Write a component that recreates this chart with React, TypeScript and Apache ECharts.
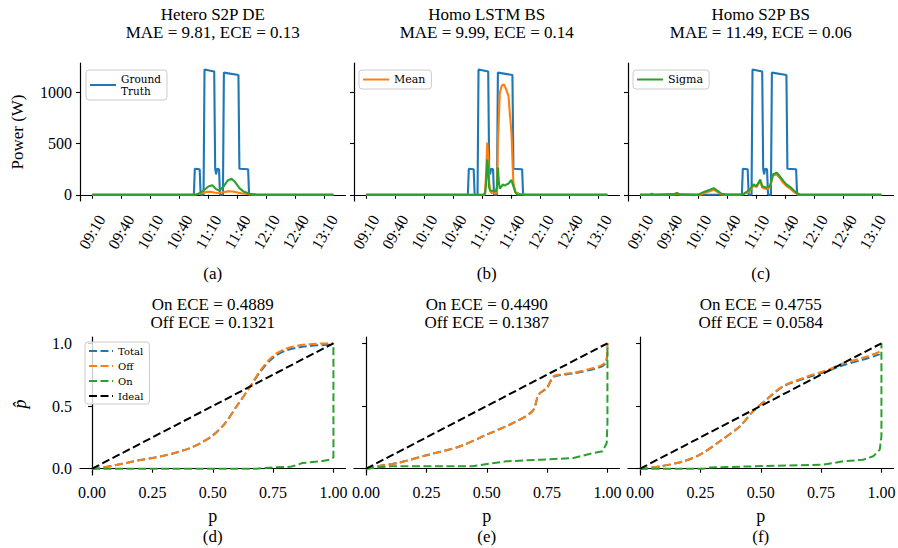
import React, { useEffect, useRef } from 'react';
import * as echarts from 'echarts';

// ---------- tick labels ----------
const timeTicks = ['09:10', '09:40', '10:10', '10:40', '11:10', '11:40', '12:10', '12:40', '13:10'];
const powerTicks = [0, 500, 1000];
const probTicks = [0, 0.25, 0.5, 0.75, 1];
const phatTicks = [0, 0.5, 1];

// ---------- titles ----------
const topTitles = [
  ['Hetero S2P DE', 'MAE = 9.81, ECE = 0.13'],
  ['Homo LSTM BS', 'MAE = 9.99, ECE = 0.14'],
  ['Homo S2P BS', 'MAE = 11.49, ECE = 0.06'],
];
const bottomTitles = [
  ['On ECE = 0.4889', 'Off ECE = 0.1321'],
  ['On ECE = 0.4490', 'Off ECE = 0.1387'],
  ['On ECE = 0.4755', 'Off ECE = 0.0584'],
];
const topTags = ['(a)', '(b)', '(c)'];
const bottomTags = ['(d)', '(e)', '(f)'];

// ---------- ground truth (same in all three panels) ----------
const gtTimes = ['09:10', '10:55', '10:56', '11:01', '11:02', '11:05', '11:06', '11:16', '11:17', '11:18', '11:19', '11:21', '11:22', '11:25', '11:26', '11:41', '11:42', '11:51', '11:52', '13:19'];
const gtValues = [0, 0, 255, 250, 0, 0, 1225, 1205, 255, 200, 255, 250, 0, 0, 1195, 1172, 255, 250, 0, 0];

// ---------- panel (a) ----------
const aMeanTimes = ['09:10', '10:55', '10:58', '11:03', '11:08', '11:12', '11:16', '11:20', '11:24', '11:30', '11:35', '11:40', '11:45', '11:52', '12:00', '13:19'];
const aMeanValues = [0, 0, 5, 15, 28, 30, 22, 15, 22, 33, 32, 22, 12, 5, 0, 0];
const aSigmaTimes = ['09:10', '10:57', '11:01', '11:06', '11:10', '11:14', '11:18', '11:21', '11:25', '11:30', '11:34', '11:37', '11:42', '11:46', '11:53', '12:00', '13:19'];
const aSigmaValues = [0, 0, 15, 49, 81, 94, 55, 42, 72, 140, 156, 130, 65, 33, 10, 0, 0];

// ---------- panel (b) ----------
const bMeanTimes = ['09:10', '11:12', '11:13', '11:14', '11:15', '11:16', '11:17', '11:18', '11:20', '11:24', '11:25', '11:26', '11:28', '11:30', '11:32', '11:34', '11:37', '11:38', '11:40', '11:41', '11:42', '11:44', '11:48', '11:55', '13:19'];
const bMeanValues = [0, 0, 60, 250, 510, 380, 120, 35, 15, 15, 20, 507, 997, 1068, 1080, 1045, 964, 834, 606, 345, 117, 26, 10, 0, 0];
const bSigmaTimes = ['09:10', '11:12', '11:13', '11:14', '11:15', '11:16', '11:17', '11:18', '11:20', '11:22', '11:24', '11:25', '11:26', '11:27', '11:28', '11:30', '11:31', '11:33', '11:35', '11:37', '11:39', '11:40', '11:42', '11:44', '11:46', '13:19'];
const bSigmaValues = [0, 0, 20, 150, 345, 230, 70, 45, 35, 45, 30, 80, 265, 120, 60, 84, 100, 90, 101, 110, 135, 143, 84, 26, 0, 0];

// ---------- panel (c) ----------
const cMeanTimes = ['09:10', '09:45', '09:48', '09:51', '10:12', '10:17', '10:22', '10:26', '10:30', '10:34', '10:38', '10:56', '11:03', '11:07', '11:10', '11:14', '11:16', '11:20', '11:24', '11:27', '11:31', '11:34', '11:38', '11:41', '11:45', '11:49', '11:52', '11:55', '13:19'];
const cMeanValues = [0, 2, 12, 2, 0, 20, 35, 50, 25, 5, 0, 3, 35, 90, 75, 135, 70, 55, 70, 185, 200, 165, 115, 85, 60, 25, 5, 0, 0];
const cSigmaTimes = ['09:10', '09:20', '09:22', '09:24', '09:45', '09:48', '09:51', '10:10', '10:17', '10:22', '10:26', '10:30', '10:34', '10:39', '10:56', '11:03', '11:07', '11:10', '11:14', '11:16', '11:20', '11:24', '11:27', '11:31', '11:34', '11:38', '11:41', '11:45', '11:49', '11:52', '11:55', '13:19'];
const cSigmaValues = [0, 0, 12, 0, 6, 18, 4, 0, 33, 49, 65, 39, 10, 3, 5, 49, 101, 84, 150, 84, 68, 84, 199, 216, 183, 133, 101, 75, 39, 16, 0, 0];

// ---------- calibration (d) ----------
const dOffP = [0, 0.05, 0.1, 0.15, 0.2, 0.25, 0.3, 0.35, 0.4, 0.45, 0.5, 0.55, 0.6, 0.65, 0.7, 0.75, 0.8, 0.85, 0.9, 0.95, 1];
const dOffY = [0, 0.012, 0.03, 0.05, 0.07, 0.085, 0.105, 0.13, 0.16, 0.205, 0.265, 0.36, 0.5, 0.64, 0.79, 0.9, 0.955, 0.98, 0.993, 0.998, 1.0];
const dTotalP = [0, 0.05, 0.1, 0.15, 0.2, 0.25, 0.3, 0.35, 0.4, 0.45, 0.5, 0.55, 0.6, 0.65, 0.7, 0.75, 0.8, 0.85, 0.9, 0.95, 1];
const dTotalY = [0, 0.012, 0.03, 0.05, 0.07, 0.085, 0.105, 0.13, 0.16, 0.205, 0.265, 0.36, 0.5, 0.64, 0.78, 0.885, 0.94, 0.965, 0.978, 0.985, 0.99];
const dOnP = [0, 0.68, 0.75, 0.82, 0.85, 0.87, 0.95, 0.99, 1, 1];
const dOnY = [0, 0, 0.01, 0.015, 0.03, 0.045, 0.06, 0.075, 0.09, 1];

// ---------- calibration (e) ----------
const eOffP = [0, 0.06, 0.13, 0.25, 0.39, 0.5, 0.61, 0.69, 0.715, 0.75, 0.775, 0.8, 0.86, 0.97, 0.995, 1];
const eOffY = [0, 0.024, 0.045, 0.107, 0.179, 0.272, 0.365, 0.46, 0.59, 0.65, 0.735, 0.75, 0.765, 0.82, 0.86, 1.0];
const eTotalP = [0, 0.06, 0.13, 0.25, 0.39, 0.5, 0.61, 0.69, 0.715, 0.75, 0.775, 0.8, 0.86, 0.97, 0.995, 1];
const eTotalY = [0, 0.024, 0.045, 0.107, 0.179, 0.272, 0.365, 0.46, 0.59, 0.645, 0.73, 0.745, 0.76, 0.81, 0.85, 0.97];
const eOnP = [0, 0.1, 0.44, 0.51, 0.58, 0.72, 0.86, 0.94, 0.98, 0.997, 1, 1];
const eOnY = [0, 0.019, 0.019, 0.04, 0.059, 0.072, 0.085, 0.125, 0.139, 0.205, 0.365, 1];

// ---------- calibration (f) ----------
const fOffP = [0, 0.083, 0.179, 0.248, 0.331, 0.414, 0.469, 0.524, 0.593, 0.69, 0.772, 0.841, 0.924, 0.995, 1];
const fOffY = [0, 0.019, 0.059, 0.112, 0.219, 0.339, 0.459, 0.552, 0.659, 0.733, 0.784, 0.84, 0.885, 0.935, 0.96];
const fTotalP = [0, 0.083, 0.179, 0.248, 0.331, 0.414, 0.469, 0.524, 0.593, 0.69, 0.772, 0.841, 0.924, 0.995, 1];
const fTotalY = [0, 0.019, 0.059, 0.112, 0.219, 0.339, 0.459, 0.552, 0.655, 0.725, 0.775, 0.825, 0.87, 0.915, 0.94];
const fOnP = [0, 0.262, 0.29, 0.566, 0.759, 0.841, 0.924, 0.966, 0.993, 1, 1];
const fOnY = [0, 0, 0.01, 0.024, 0.032, 0.059, 0.072, 0.099, 0.152, 0.259, 1];

const idealP = [0, 1];
const idealY = [0, 1];

const BLUE = '#1f77b4';
const ORANGE = '#ff7f0e';
const GREEN = '#2ca02c';
const SERIF = "'Liberation Serif', 'DejaVu Serif', serif";
const LEGEND_FONT = "'DejaVu Serif', 'Liberation Serif', serif";

const toMin = (s: string) => {
  const [h, m] = s.split(':').map(Number);
  return h * 60 + m;
};
const fmtMin = (v: number) => {
  const h = Math.floor(v / 60);
  const m = Math.round(v - h * 60);
  return `${String(h).padStart(2, '0')}:${String(m).padStart(2, '0')}`;
};
const zipTime = (t: string[], v: number[]) => t.map((s, i) => [toMin(s), v[i]]);
const zip = (a: number[], b: number[]) => a.map((x, i) => [x, b[i]]);

const LEFTS = [80, 354, 628];
const WIDTH = 265.5;
const TOP1 = 63;
const TOP2 = 337;
const HEIGHT = 138;

export default function App() {
  const ref = useRef<HTMLDivElement>(null);
  useEffect(() => {
    if (!ref.current) return;
    const chart = echarts.init(ref.current, undefined, { renderer: 'svg' });

    const grids: any[] = [];
    const xAxes: any[] = [];
    const yAxes: any[] = [];
    const series: any[] = [];

    const axisLine = { show: true, lineStyle: { color: '#000', width: 1.2 } };
    const tickStyle = { color: '#000', width: 1.1 };
    const tickFont = { fontFamily: SERIF, fontSize: 16, color: '#000' };

    const topData = [
      [zipTime(aMeanTimes, aMeanValues), zipTime(aSigmaTimes, aSigmaValues)],
      [zipTime(bMeanTimes, bMeanValues), zipTime(bSigmaTimes, bSigmaValues)],
      [zipTime(cMeanTimes, cMeanValues), zipTime(cSigmaTimes, cSigmaValues)],
    ];
    const botData = [
      [zip(dTotalP, dTotalY), zip(dOffP, dOffY), zip(dOnP, dOnY)],
      [zip(eTotalP, eTotalY), zip(eOffP, eOffY), zip(eOnP, eOnY)],
      [zip(fTotalP, fTotalY), zip(fOffP, fOffY), zip(fOnP, fOnY)],
    ];

    for (let i = 0; i < 3; i++) {
      grids.push({ left: LEFTS[i], top: TOP1, width: WIDTH, height: HEIGHT, outerBoundsMode: 'none' });
      xAxes.push({
        type: 'value', gridIndex: i, min: 537.5, max: 811.5,
        axisLine, splitLine: { show: false },
        axisTick: { show: true, length: 4, lineStyle: tickStyle, customValues: timeTicks.map(toMin) },
        axisLabel: {
          ...tickFont, customValues: timeTicks.map(toMin), formatter: (v: number) => fmtMin(v),
          rotate: 60, align: 'center', verticalAlign: 'middle', margin: 31,
        },
      });
      yAxes.push({
        type: 'value', gridIndex: i, min: -61, max: 1289,
        axisLine, splitLine: { show: false },
        axisTick: { show: true, length: 4, lineStyle: tickStyle, customValues: powerTicks },
        axisLabel: { ...tickFont, show: i === 0, customValues: powerTicks, margin: 8, formatter: (v: number) => String(v) },
      });
      const gtData = zipTime(gtTimes, gtValues);
      const common = { type: 'line', xAxisIndex: i, yAxisIndex: i, symbol: 'none', showSymbol: false, animation: false, silent: true };
      series.push({ ...common, name: 'Ground Truth', data: gtData, lineStyle: { color: BLUE, width: 2.1 }, itemStyle: { color: BLUE } });
      series.push({ ...common, name: 'Mean', data: topData[i][0], lineStyle: { color: ORANGE, width: 2.1 }, itemStyle: { color: ORANGE } });
      series.push({ ...common, name: 'Sigma', data: topData[i][1], lineStyle: { color: GREEN, width: 2.1 }, itemStyle: { color: GREEN } });
    }

    for (let i = 0; i < 3; i++) {
      const gi = i + 3;
      grids.push({ left: LEFTS[i], top: TOP2, width: WIDTH, height: HEIGHT, outerBoundsMode: 'none' });
      xAxes.push({
        type: 'value', gridIndex: gi, min: -0.05, max: 1.05,
        axisLine, splitLine: { show: false },
        axisTick: { show: true, length: 4, lineStyle: tickStyle, customValues: probTicks },
        axisLabel: { ...tickFont, customValues: probTicks, formatter: (v: number) => v.toFixed(2), margin: 9 },
      });
      yAxes.push({
        type: 'value', gridIndex: gi, min: -0.05, max: 1.05,
        axisLine, splitLine: { show: false },
        axisTick: { show: true, length: 4, lineStyle: tickStyle, customValues: phatTicks },
        axisLabel: { ...tickFont, show: i === 0, customValues: phatTicks, formatter: (v: number) => v.toFixed(1), margin: 8 },
      });
      const common = { type: 'line', xAxisIndex: gi, yAxisIndex: gi, symbol: 'none', showSymbol: false, animation: false, silent: true };
      const dash = [8, 3.5];
      series.push({ ...common, name: 'Total', data: botData[i][0], smooth: 0.3, lineStyle: { color: BLUE, width: 2, type: dash }, itemStyle: { color: BLUE } });
      series.push({ ...common, name: 'Off', data: botData[i][1], smooth: 0.3, lineStyle: { color: ORANGE, width: 2, type: dash }, itemStyle: { color: ORANGE } });
      series.push({ ...common, name: 'On', data: botData[i][2], lineStyle: { color: GREEN, width: 2, type: dash }, itemStyle: { color: GREEN } });
      series.push({ ...common, name: 'Ideal', data: zip(idealP, idealY), lineStyle: { color: '#000', width: 2, type: dash }, itemStyle: { color: '#000' } });
    }

    const legendBase = {
      orient: 'vertical', backgroundColor: 'rgba(255,255,255,0.8)', borderColor: '#cccccc', borderWidth: 1, borderRadius: 3,
      selectedMode: false, itemStyle: { opacity: 0, borderWidth: 0 },
    };
    const legends = [
      {
        ...legendBase, left: 86, top: 70, data: ['Ground Truth'], itemWidth: 26, itemHeight: 10, padding: [3, 6, 3, 3],
        formatter: (n: string) => (n === 'Ground Truth' ? 'Ground\nTruth' : n),
        textStyle: { fontFamily: LEGEND_FONT, fontSize: 10.5, color: '#000', lineHeight: 12 },
      },
      {
        ...legendBase, left: 359, top: 70, data: ['Mean'], itemWidth: 26, itemHeight: 10, padding: [4, 6, 4, 3],
        textStyle: { fontFamily: LEGEND_FONT, fontSize: 11, color: '#000' },
      },
      {
        ...legendBase, left: 633, top: 70, data: ['Sigma'], itemWidth: 26, itemHeight: 10, padding: [4, 6, 4, 3],
        textStyle: { fontFamily: LEGEND_FONT, fontSize: 11, color: '#000' },
      },
      {
        ...legendBase, left: 85, top: 342, data: ['Total', 'Off', 'On', 'Ideal'], itemWidth: 24, itemHeight: 8, itemGap: 5,
        padding: [4, 6, 3, 3],
        textStyle: { fontFamily: LEGEND_FONT, fontSize: 10, color: '#000' },
      },
    ];

    const text = (x: number, y: number, s: string, size: number, extra: any = {}) => ({
      type: 'text', x, y, silent: true, ...extra,
      style: {
        text: s, fontFamily: SERIF, fontSize: size, fill: '#000',
        textAlign: 'center', textVerticalAlign: 'middle', align: 'center', verticalAlign: 'middle',
        ...(extra.style || {}),
      },
    });
    const graphics: any[] = [];
    for (let i = 0; i < 3; i++) {
      const cx = LEFTS[i] + WIDTH / 2;
      graphics.push(text(cx, 14, topTitles[i][0], 17));
      graphics.push(text(cx, 32, topTitles[i][1], 17));
      graphics.push(text(cx, 304, bottomTitles[i][0], 17));
      graphics.push(text(cx, 322, bottomTitles[i][1], 17));
      graphics.push(text(cx, 273, topTags[i], 17));
      graphics.push(text(cx, 516, 'p', 18));
      graphics.push(text(cx, 536, bottomTags[i], 17));
    }
    graphics.push(text(17, 132, 'Power (W)', 17, { rotation: Math.PI / 2 }));
    graphics.push(text(20, 404, 'p\u0302', 18, { rotation: Math.PI / 2, style: { fontStyle: 'italic' } }));

    chart.setOption({
      animation: false,
      backgroundColor: '#fff',
      grid: grids,
      xAxis: xAxes,
      yAxis: yAxes,
      series,
      legend: legends,
      graphic: graphics,
    });
    return () => chart.dispose();
  }, []);
  return <div ref={ref} style={{ width: 898, height: 548, position: 'absolute', left: 0, top: 0 }} />;
}
